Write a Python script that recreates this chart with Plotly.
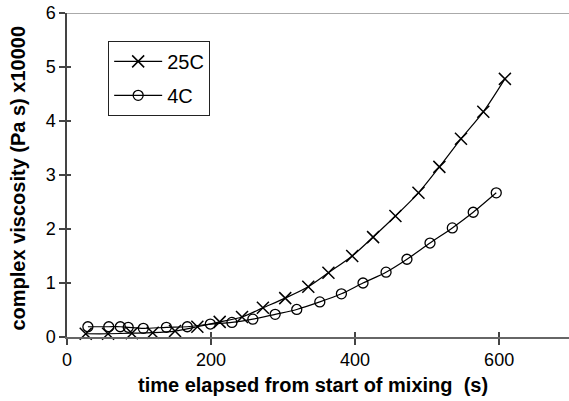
import plotly.graph_objects as go

# Data
time_25c = [26, 57, 90, 119, 150, 181, 212, 243, 272, 303, 335, 363, 396, 425, 456, 488, 517, 547, 578, 608]
visc_25c = [0.06, 0.06, 0.07, 0.08, 0.11, 0.19, 0.28, 0.37, 0.54, 0.72, 0.93, 1.19, 1.50, 1.85, 2.24, 2.67, 3.15, 3.67, 4.17, 4.78]

time_4c = [29, 58, 74, 85, 106, 138, 167, 199, 229, 258, 289, 319, 351, 381, 411, 443, 472, 504, 535, 564, 596]
visc_4c = [0.19, 0.19, 0.19, 0.18, 0.16, 0.18, 0.19, 0.24, 0.27, 0.33, 0.42, 0.51, 0.65, 0.80, 1.00, 1.20, 1.44, 1.74, 2.02, 2.31, 2.67]

x_ticks = [0, 200, 400, 600]
y_ticks = [0, 1, 2, 3, 4, 5, 6]

FONT = "Liberation Sans, Arial, sans-serif"

fig = go.Figure()
fig.add_trace(go.Scatter(
    x=time_25c, y=visc_25c, name="25C", mode="lines+markers",
    line=dict(color="black", width=1.2, shape="spline", smoothing=0.8),
    marker=dict(symbol="x-thin-open", size=12, color="black",
                line=dict(color="black", width=1.5)),
    legendgroup="a", cliponaxis=False,
))
fig.add_trace(go.Scatter(
    x=time_4c, y=visc_4c, name="4C", mode="lines+markers",
    xaxis="x2", yaxis="y2",
    line=dict(color="black", width=1.2, shape="spline", smoothing=0.8),
    marker=dict(symbol="circle-open", size=10, color="black",
                line=dict(color="black", width=1.3)),
    legendgroup="b", cliponaxis=False,
))

fig.update_layout(
    width=569, height=401,
    margin=dict(l=67, r=0, t=13, b=64),
    paper_bgcolor="white", plot_bgcolor="white",
    font=dict(family=FONT, color="black"),
    showlegend=True,
    legend=dict(
        x=0.082, y=0.914, xanchor="left", yanchor="top",
        bgcolor="white", bordercolor="#222", borderwidth=1,
        font=dict(size=20, family=FONT),
        traceorder="grouped", tracegroupgap=5, itemwidth=48,
    ),
    xaxis=dict(
        range=[0, 697], tickvals=x_ticks, ticktext=[str(v) for v in x_ticks],
        showgrid=False, zeroline=False, automargin=False,
        showline=True, linecolor="#666", linewidth=1.5,
        ticks="outside", ticklen=6, tickcolor="#444", tickwidth=1.5,
        tickfont=dict(size=18, family=FONT),
    ),
    yaxis=dict(
        range=[0, 6], tickvals=y_ticks, ticktext=[str(v) for v in y_ticks],
        showgrid=False, zeroline=False, automargin=False,
        showline=True, linecolor="#444", linewidth=1.5,
        ticks="outside", ticklen=6, tickcolor="#444", tickwidth=1.5,
        tickfont=dict(size=18, family=FONT),
    ),
    xaxis2=dict(
        overlaying="x", matches="x", range=[0, 697], tickvals=x_ticks,
        showticklabels=False, showgrid=False, zeroline=False, showline=False,
        ticks="inside", ticklen=5, tickcolor="#444", tickwidth=1.5, automargin=False,
    ),
    yaxis2=dict(
        overlaying="y", matches="y", range=[0, 6], tickvals=y_ticks,
        showticklabels=False, showgrid=False, zeroline=False, showline=False,
        ticks="inside", ticklen=4, tickcolor="#444", tickwidth=1.5, automargin=False,
    ),
    shapes=[dict(type="line", xref="paper", yref="y", x0=0, x1=1, y0=6, y1=6,
                 line=dict(color="#aaa", width=2), layer="below")],
    annotations=[
        dict(text="<b>time elapsed from start of mixing \u00a0(s)</b>",
             xref="paper", yref="paper", x=0.49, y=-0.148, yanchor="middle",
             xanchor="center", showarrow=False, font=dict(size=20, family=FONT)),
        dict(text="<b>complex viscosity (Pa s) x10000</b>",
             xref="paper", yref="paper", x=-0.097, y=0.49, xanchor="center",
             yanchor="middle", textangle=-90, showarrow=False,
             font=dict(size=20, family=FONT)),
    ],
)

fig.write_html("out.html", config={"displayModeBar": False},
               post_script="document.body.style.margin='0';document.body.style.padding='0';")
